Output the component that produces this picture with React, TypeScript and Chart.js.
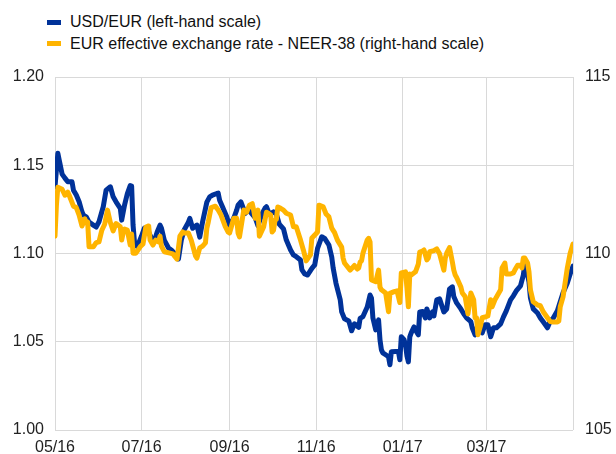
import React, { useEffect, useRef } from "react";
import { Chart, registerables } from "chart.js";

Chart.register(...registerables);

const FONT = '"Liberation Sans", Arial, sans-serif';
const LEGEND_FONT = '"Liberation Sans Narrow", "Arial Narrow", "Liberation Sans", Arial, sans-serif';

const legendLabels = [
  "USD/EUR (left-hand scale)",
  "EUR effective exchange rate - NEER-38 (right-hand scale)",
];
const seriesColors = ["#003299", "#FFB400"];

// days since 1 May 2016
const xTickDays = [0, 61, 123, 184, 245, 304, 365];
const xTickLabels = ["05/16", "07/16", "09/16", "11/16", "01/17", "03/17", ""];

const leftTicks = [1.0, 1.05, 1.1, 1.15, 1.2];
const rightTicks = [105, 110, 115];

const usdDays = [0, 2, 3, 5, 7, 9, 12, 13, 15, 17, 19, 20, 22, 24, 27, 29, 31, 34, 36, 39, 41, 43, 46, 47, 49, 51, 53, 54, 55, 56, 58, 61, 63, 65, 68, 70, 72, 74, 75, 77, 80, 82, 84, 87, 89, 91, 94, 95, 97, 100, 102, 104, 107, 109, 111, 114, 115, 116, 118, 121, 123, 126, 128, 129, 131, 134, 136, 138, 141, 143, 146, 148, 149, 151, 154, 156, 158, 161, 163, 166, 168, 170, 173, 174, 176, 178, 181, 183, 185, 188, 190, 193, 195, 196, 198, 201, 202, 204, 207, 209, 211, 214, 215, 217, 220, 222, 223, 224, 226, 228, 229, 230, 231, 233, 235, 236, 237, 240, 242, 243, 244, 246, 247, 248, 249, 250, 251, 253, 254, 256, 257, 259, 261, 262, 263, 264, 266, 267, 268, 269, 271, 274, 276, 278, 280, 281, 283, 286, 288, 290, 293, 294, 296, 298, 301, 303, 305, 307, 309, 311, 314, 316, 318, 321, 323, 325, 328, 330, 331, 333, 334, 335, 337, 340, 342, 344, 347, 349, 351, 354, 356, 358, 361, 363, 365];
const usdRate = [1.1378, 1.1568, 1.1529, 1.145, 1.1427, 1.1406, 1.1406, 1.1359, 1.1331, 1.1293, 1.1236, 1.1218, 1.1208, 1.1178, 1.1161, 1.115, 1.118, 1.1265, 1.1359, 1.1378, 1.1321, 1.1293, 1.1256, 1.1189, 1.1274, 1.134, 1.1385, 1.1382, 1.1161, 1.1065, 1.1038, 1.1099, 1.1144, 1.1139, 1.1086, 1.1071, 1.1122, 1.1161, 1.1144, 1.1076, 1.1031, 1.102, 1.1003, 1.0969, 1.1076, 1.1133, 1.1178, 1.1199, 1.1143, 1.1161, 1.1093, 1.118, 1.1291, 1.1321, 1.1331, 1.134, 1.1342, 1.1302, 1.1265, 1.1208, 1.1156, 1.1201, 1.1246, 1.1274, 1.1293, 1.1227, 1.1246, 1.1232, 1.1204, 1.1157, 1.1227, 1.1257, 1.1265, 1.1223, 1.1236, 1.1223, 1.1167, 1.1139, 1.1076, 1.102, 1.0992, 1.0982, 1.0963, 1.0907, 1.0884, 1.0878, 1.0916, 1.0935, 1.1029, 1.1095, 1.1086, 1.1048, 1.098, 1.0918, 1.0831, 1.0737, 1.0669, 1.063, 1.0618, 1.0562, 1.0602, 1.0581, 1.0633, 1.0643, 1.0697, 1.0765, 1.0748, 1.0635, 1.0567, 1.0624, 1.0511, 1.0454, 1.0437, 1.0426, 1.0415, 1.037, 1.0443, 1.0445, 1.0445, 1.0398, 1.0528, 1.0511, 1.0482, 1.042, 1.0386, 1.0528, 1.055, 1.0584, 1.0567, 1.0539, 1.0669, 1.0671, 1.0635, 1.0686, 1.0663, 1.0635, 1.0669, 1.0646, 1.0692, 1.0737, 1.0743, 1.0669, 1.0686, 1.0799, 1.0811, 1.0756, 1.072, 1.0686, 1.0658, 1.0635, 1.0614, 1.0579, 1.0539, 1.0596, 1.055, 1.0596, 1.0596, 1.0528, 1.0579, 1.0579, 1.0601, 1.0641, 1.0675, 1.0737, 1.076, 1.0788, 1.0816, 1.0878, 1.0935, 1.0878, 1.0839, 1.0748, 1.0686, 1.0663, 1.0635, 1.0613, 1.0579, 1.0618, 1.0633, 1.0675, 1.0726, 1.0777, 1.0833, 1.0884, 1.0929];

const neerDays = [0, 1, 2, 5, 7, 9, 10, 13, 15, 17, 19, 21, 22, 23, 24, 27, 29, 31, 33, 35, 37, 39, 41, 43, 46, 47, 48, 49, 51, 53, 54, 55, 57, 60, 62, 64, 66, 67, 69, 71, 73, 74, 75, 77, 81, 83, 86, 88, 90, 91, 94, 96, 99, 100, 102, 104, 106, 107, 108, 110, 113, 115, 117, 120, 122, 123, 126, 128, 129, 130, 133, 135, 137, 139, 140, 141, 143, 144, 147, 149, 150, 152, 153, 154, 155, 156, 157, 159, 161, 163, 166, 168, 170, 173, 175, 177, 180, 181, 183, 185, 186, 189, 191, 193, 195, 197, 199, 202, 203, 204, 207, 208, 211, 213, 214, 215, 216, 217, 220, 221, 222, 223, 226, 228, 229, 230, 233, 235, 236, 239, 241, 243, 244, 247, 248, 249, 250, 251, 254, 256, 257, 259, 260, 262, 263, 264, 267, 269, 271, 274, 275, 276, 278, 280, 281, 282, 283, 286, 287, 289, 291, 293, 295, 296, 297, 298, 300, 301, 303, 305, 307, 308, 310, 312, 314, 315, 317, 318, 321, 323, 324, 326, 328, 329, 330, 331, 333, 334, 335, 337, 340, 342, 344, 347, 349, 351, 354, 355, 356, 358, 361, 363, 365];
const neerIndex = [110.49, 111.37, 111.88, 111.82, 111.65, 111.74, 111.65, 111.34, 111.3, 111.09, 110.78, 110.98, 110.86, 110.89, 110.19, 110.19, 110.31, 110.33, 110.66, 110.83, 111.23, 110.88, 110.64, 110.85, 110.76, 110.38, 110.58, 110.69, 110.66, 110.24, 110.55, 110.01, 110.01, 110.19, 110.27, 110.75, 110.78, 110.38, 110.24, 110.38, 110.33, 110.49, 110.21, 110.05, 110.01, 109.99, 109.84, 110.49, 110.61, 110.58, 110.58, 110.38, 109.93, 109.87, 110.16, 110.21, 110.3, 110.72, 110.89, 111.3, 111.34, 111.23, 111.09, 110.76, 110.61, 110.58, 111.0, 111.0, 110.58, 110.47, 111.23, 111.17, 111.37, 111.41, 111.23, 111.0, 111.23, 110.49, 110.75, 111.17, 111.15, 111.09, 110.61, 110.66, 110.94, 110.97, 111.32, 111.28, 111.23, 111.14, 111.09, 110.76, 110.76, 110.38, 110.1, 109.79, 109.96, 110.44, 110.52, 110.61, 111.37, 111.32, 111.12, 111.04, 110.72, 110.59, 110.38, 110.18, 109.87, 109.73, 109.58, 109.53, 109.66, 109.56, 109.59, 109.76, 109.79, 110.01, 110.38, 110.43, 110.33, 109.25, 109.2, 109.53, 109.05, 108.97, 108.88, 108.35, 108.87, 108.92, 108.94, 108.61, 109.45, 109.48, 109.02, 108.49, 109.42, 109.39, 109.48, 109.7, 110.04, 110.07, 110.1, 109.82, 109.87, 110.05, 110.08, 110.13, 109.99, 109.53, 109.87, 110.01, 110.17, 109.76, 109.53, 109.39, 109.32, 109.05, 108.88, 108.78, 108.29, 108.88, 108.69, 108.18, 108.18, 107.7, 107.98, 108.18, 108.2, 108.23, 108.69, 108.49, 108.69, 108.83, 108.97, 109.59, 109.73, 109.42, 109.42, 109.45, 109.53, 109.67, 109.67, 109.59, 109.87, 109.87, 109.73, 109.48, 108.97, 108.63, 108.54, 108.52, 108.35, 108.18, 108.07, 108.06, 108.06, 108.09, 108.49, 108.77, 109.59, 110.01, 110.27];

export default function App() {
  const canvasRef = useRef<HTMLCanvasElement | null>(null);

  useEffect(() => {
    if (!canvasRef.current) return;
    const grid = "#d9d9d9";
    const tickFont = { family: FONT, size: 16 };
    const chart = new Chart(canvasRef.current, {
      type: "line",
      data: {
        datasets: [
          {
            label: legendLabels[0],
            data: usdDays.map((d, i) => ({ x: d, y: usdRate[i] })),
            borderColor: seriesColors[0],
            backgroundColor: seriesColors[0],
            borderWidth: 5,
            pointRadius: 0,
            tension: 0,
            yAxisID: "y",
            order: 1,
            borderJoinStyle: "round",
            borderCapStyle: "round",
          },
          {
            label: legendLabels[1],
            data: neerDays.map((d, i) => ({ x: d, y: neerIndex[i] })),
            borderColor: seriesColors[1],
            backgroundColor: seriesColors[1],
            borderWidth: 5,
            pointRadius: 0,
            tension: 0,
            yAxisID: "y1",
            order: 0,
            borderJoinStyle: "round",
            borderCapStyle: "round",
          },
        ],
      },
      options: {
        animation: false,
        responsive: true,
        maintainAspectRatio: false,
        layout: { padding: { top: 77, left: 0, right: 0, bottom: 0 } },
        plugins: { legend: { display: false }, tooltip: { enabled: false } },
        scales: {
          x: {
            type: "linear",
            min: 0,
            max: 365,
            afterBuildTicks: (scale: any) => {
              scale.ticks = xTickDays.map((v) => ({ value: v }));
            },
            afterFit: (scale: any) => {
              scale.height = 24;
            },
            ticks: {
              autoSkip: false,
              maxRotation: 0,
              padding: 8,
              color: "#222",
              font: tickFont,
              callback: (_v: any, i: number) => xTickLabels[i],
            },
            grid: { color: grid, drawTicks: false, lineWidth: 1 },
            border: { display: false },
          },
          y: {
            position: "left",
            min: 1.0,
            max: 1.2,
            afterBuildTicks: (scale: any) => {
              scale.ticks = leftTicks.map((v) => ({ value: v }));
            },
            afterFit: (scale: any) => {
              scale.width = 55;
            },
            ticks: {
              padding: 11,
              color: "#222",
              font: tickFont,
              callback: (v: any) => Number(v).toFixed(2),
            },
            grid: { color: grid, drawTicks: false, lineWidth: 1 },
            border: { display: false },
          },
          y1: {
            position: "right",
            min: 105,
            max: 115,
            afterBuildTicks: (scale: any) => {
              scale.ticks = rightTicks.map((v) => ({ value: v }));
            },
            afterFit: (scale: any) => {
              scale.width = 43;
            },
            ticks: {
              padding: 12,
              color: "#222",
              font: tickFont,
              callback: (v: any) => String(v),
            },
            grid: { drawOnChartArea: false, drawTicks: false },
            border: { display: false },
          },
        },
      },
    } as any);
    return () => chart.destroy();
  }, []);

  const legendTop = [12.5, 34.5];
  const boxTop = [19.5, 41];

  return (
    <div
      style={{
        position: "fixed",
        left: 0,
        top: 0,
        width: 616,
        height: 454,
        background: "#fff",
        fontFamily: FONT,
      }}
    >
      {legendLabels.map((t, i) => (
        <React.Fragment key={t}>
          <div
            style={{
              position: "absolute",
              left: 47,
              top: boxTop[i],
              width: 14,
              height: 5,
              background: seriesColors[i],
            }}
          />
          <div
            style={{
              position: "absolute",
              left: 70,
              top: legendTop[i],
              fontFamily: LEGEND_FONT,
              fontSize: 16,
              lineHeight: "18px",
              color: "#111",
              whiteSpace: "nowrap",
            }}
          >
            {t}
          </div>
        </React.Fragment>
      ))}
      <div style={{ position: "absolute", left: 0, top: 0, width: 616, height: 454 }}>
        <canvas ref={canvasRef} />
      </div>
    </div>
  );
}
